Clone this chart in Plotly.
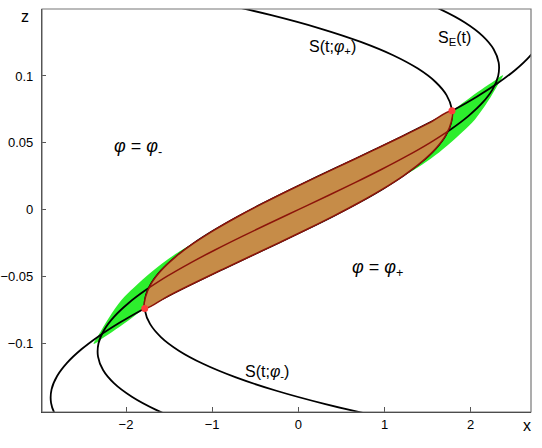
import plotly.graph_objects as go

# ---- data (x, z) ----
# S_E(t)
se_x = [-1.2693, -1.6448, -1.9322, -2.1374, -2.2664, -2.3250, -2.3190, -2.2543, -2.1369,
        -1.9724, -1.7670, -1.5263, -1.2562, -0.9627, -0.6516, -0.3287, 0.0,
        0.3287, 0.6516, 0.9627, 1.2562, 1.5263, 1.7670, 1.9724, 2.1369, 2.2543,
        2.3190, 2.3250, 2.2664, 2.1374, 1.9322, 1.6448, 1.2693]
se_z = [-0.16, -0.15, -0.14, -0.13, -0.12, -0.11, -0.10, -0.09, -0.08,
        -0.07, -0.06, -0.05, -0.04, -0.03, -0.02, -0.01, 0.0,
        0.01, 0.02, 0.03, 0.04, 0.05, 0.06, 0.07, 0.08, 0.09,
        0.10, 0.11, 0.12, 0.13, 0.14, 0.15, 0.16]

# S(t; phi+)
sp_x = [-2.6824, -2.8114, -2.8700, -2.8640, -2.7993, -2.6819, -2.5174, -2.3120, -2.0713,
        -1.8012, -1.5077, -1.1966, -0.8737, -0.545, -0.2163, 0.1066, 0.4177, 0.7112,
        0.9813, 1.2220, 1.4274, 1.5919, 1.7093, 1.7740, 1.7800, 1.7214, 1.5924,
        1.3872, 1.0998, 0.7243, 0.2550, -0.3141, -0.9888]
sp_z = [-0.1645, -0.1545, -0.1445, -0.1345, -0.1245, -0.1145, -0.1045, -0.0945, -0.0845,
        -0.0745, -0.0645, -0.0545, -0.0445, -0.0345, -0.0245, -0.0145, -0.0045, 0.0055,
        0.0155, 0.0255, 0.0355, 0.0455, 0.0555, 0.0655, 0.0755, 0.0855, 0.0955,
        0.1055, 0.1155, 0.1255, 0.1355, 0.1455, 0.1555]

# S(t; phi-)
sm_x = [2.6824, 2.8114, 2.8700, 2.8640, 2.7993, 2.6819, 2.5174, 2.3120, 2.0713,
        1.8012, 1.5077, 1.1966, 0.8737, 0.545, 0.2163, -0.1066, -0.4177, -0.7112,
        -0.9813, -1.2220, -1.4274, -1.5919, -1.7093, -1.7740, -1.7800, -1.7214, -1.5924,
        -1.3872, -1.0998, -0.7243, -0.2550, 0.3141, 0.9888]
sm_z = [0.1645, 0.1545, 0.1445, 0.1345, 0.1245, 0.1145, 0.1045, 0.0945, 0.0845,
        0.0745, 0.0645, 0.0545, 0.0445, 0.0345, 0.0245, 0.0145, 0.0045, -0.0055,
        -0.0155, -0.0255, -0.0355, -0.0455, -0.0555, -0.0655, -0.0755, -0.0855, -0.0955,
        -0.1055, -0.1155, -0.1255, -0.1355, -0.1455, -0.1555]

# brown lens (between S(t;phi-) above and S(t;phi+) below)
lens_x = [-1.783, -1.7740, -1.7093, -1.5919, -1.4274, -1.2220, -0.9813, -0.7112, -0.4177,
          -0.1066, 0.2163, 0.545, 0.8737, 1.1966, 1.5077, 1.783,
          1.7740, 1.7093, 1.5919, 1.4274, 1.2220, 0.9813, 0.7112, 0.4177,
          0.1066, -0.2163, -0.545, -0.8737, -1.1966, -1.5077, -1.783]
lens_z = [-0.0739, -0.0655, -0.0555, -0.0455, -0.0355, -0.0255, -0.0155, -0.0055, 0.0045,
          0.0145, 0.0245, 0.0345, 0.0445, 0.0545, 0.0645, 0.0739,
          0.0655, 0.0555, 0.0455, 0.0355, 0.0255, 0.0155, 0.0055, -0.0045,
          -0.0145, -0.0245, -0.0345, -0.0445, -0.0545, -0.0645, -0.0739]

# S_E segment inside the lens
mid_x = [-1.735, -1.5263, -1.2562, -0.9627, -0.6516, -0.3287, 0.0,
         0.3287, 0.6516, 0.9627, 1.2562, 1.5263, 1.735]
mid_z = [-0.0586, -0.05, -0.04, -0.03, -0.02, -0.01, 0.0,
         0.01, 0.02, 0.03, 0.04, 0.05, 0.0586]

# green region
green_x = [-2.375, -2.320, -2.200, -2.050, -1.910, -1.770, -1.585, -1.385, -1.206, -1.067,
           -0.9813, -0.7112, -0.4177, -0.1066, 0.2163, 0.545, 0.8737, 1.1966, 1.5077, 1.783,
           1.903, 2.077, 2.251, 2.375,
           2.320, 2.200, 2.050, 1.910, 1.770, 1.585, 1.385, 1.206, 1.067,
           0.9813, 0.7112, 0.4177, 0.1066, -0.2163, -0.545, -0.8737, -1.1966, -1.5077, -1.783,
           -1.903, -2.077, -2.251, -2.375]
green_z = [-0.1005, -0.0940, -0.0810, -0.0675, -0.0585, -0.0503, -0.0405, -0.0315, -0.0248, -0.0203,
           -0.0155, -0.0055, 0.0045, 0.0145, 0.0245, 0.0345, 0.0445, 0.0545, 0.0645, 0.0739,
           0.0795, 0.0878, 0.0953, 0.1005,
           0.0940, 0.0810, 0.0675, 0.0585, 0.0503, 0.0405, 0.0315, 0.0248, 0.0203,
           0.0155, 0.0055, -0.0045, -0.0145, -0.0245, -0.0345, -0.0445, -0.0545, -0.0645, -0.0739,
           -0.0795, -0.0878, -0.0953, -0.1005]

red_x = [-1.783, 1.783]
red_z = [-0.0739, 0.0739]

x_ticks = [-2, -1, 0, 1, 2]
x_ticktext = ["\u22122", "\u22121", "0", "1", "2"]
z_ticks = [-0.1, -0.05, 0, 0.05, 0.1]
z_ticktext = ["\u22120.1", "\u22120.05", "0", "0.05", "0.1"]

BLACK = "black"
DARKRED = "rgb(140,20,10)"

fig = go.Figure()
fig.add_trace(go.Scatter(x=green_x, y=green_z, fill="toself", fillcolor="rgb(45,238,45)",
                         line=dict(color="rgba(0,0,0,0)", width=0, shape="spline"),
                         mode="lines", hoverinfo="skip"))
for xs, zs in [(se_x, se_z), (sp_x, sp_z), (sm_x, sm_z)]:
    fig.add_trace(go.Scatter(x=xs, y=zs, mode="lines",
                             line=dict(color=BLACK, width=1.8, shape="spline")))
fig.add_trace(go.Scatter(x=lens_x, y=lens_z, fill="toself", fillcolor="rgb(198,140,72)",
                         mode="lines", line=dict(color=DARKRED, width=1.5, shape="spline")))
fig.add_trace(go.Scatter(x=mid_x, y=mid_z, mode="lines",
                         line=dict(color=DARKRED, width=1.5, shape="spline")))
fig.add_trace(go.Scatter(x=red_x, y=red_z, mode="markers",
                         marker=dict(color="rgb(255,60,60)", size=7)))

FONT = "Liberation Sans, Arial, sans-serif"
ann = [
    dict(x=0.40, y=0.121, text="S(t;<i>φ</i><sub>+</sub>)", size=16),
    dict(x=1.817, y=0.1284, text="S<sub>E</sub>(t)", size=16),
    dict(x=-0.364, y=-0.1215, text="S(t;<i>φ</i><sub>-</sub>)", size=16),
    dict(x=-1.861, y=0.0468, text="<i>φ</i> = <i>φ</i><sub>-</sub>", size=18),
    dict(x=0.924, y=-0.0437, text="<i>φ</i> = <i>φ</i><sub>+</sub>", size=18),
]
for a in ann:
    fig.add_annotation(x=a["x"], y=a["y"], xref="x", yref="y", text=a["text"],
                       showarrow=False, font=dict(family=FONT, size=a["size"], color="black"))

L, R, T, B = 42, 11, 9, 36
W, H = 542, 448
pw, ph = W - L - R, H - T - B
# axis letters placed by pixel position, converted to paper coords
for px, py, txt in [(25, 17, "z"), (527, 425, "x")]:
    fig.add_annotation(x=(px - L) / pw, y=1 - (py - T) / ph, xref="paper", yref="paper",
                       text=txt, showarrow=False, xanchor="center", yanchor="middle",
                       font=dict(family=FONT, size=16, color="black"))

fig.add_shape(type="rect", xref="paper", yref="paper", x0=0, y0=0, x1=1, y1=1,
              line=dict(color="#777", width=1.2), layer="above")

fig.update_layout(
    width=W, height=H, margin=dict(l=L, r=R, t=T, b=B, autoexpand=False),
    paper_bgcolor="white", plot_bgcolor="white", showlegend=False,
    font=dict(family=FONT, size=13, color="black"),
    xaxis=dict(range=[-2.975, 2.70], tickvals=x_ticks, ticktext=x_ticktext, automargin=False,
               showgrid=False, zeroline=False, showline=True, linecolor="#222", linewidth=1.2,
               ticks="inside", ticklen=5, tickcolor="#555", tickfont=dict(size=13)),
    yaxis=dict(range=[-0.1514, 0.1501], tickvals=z_ticks, ticktext=z_ticktext, automargin=False,
               showgrid=False, zeroline=False, showline=True, linecolor="#222", linewidth=1.2,
               ticks="inside", ticklen=4, tickcolor="#555", tickfont=dict(size=13),
               ticklabelstandoff=5),
)

fig.write_html("out.html")
